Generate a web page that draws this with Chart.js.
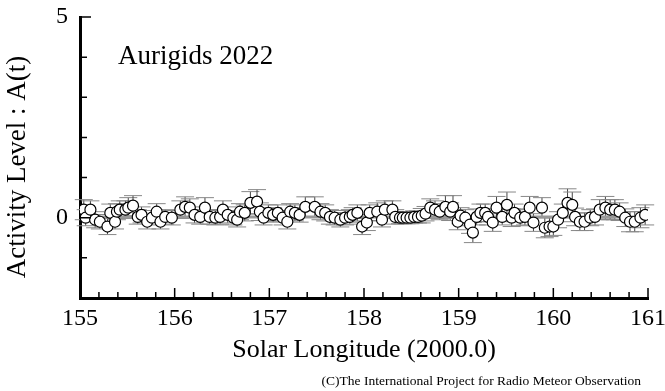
<!DOCTYPE html>
<html>
<head>
<meta charset="utf-8">
<script src="https://cdn.jsdelivr.net/npm/chart.js@4/dist/chart.umd.min.js"></script>
<style>
  html, body { margin: 0; padding: 0; background: #fff; }
</style>
</head>
<body>
<canvas id="chart" width="665" height="391"></canvas>
<script>
// solar longitude of each observation (deg, J2000.0)
const solarLongitude = [
  155.04, 155.06, 155.11, 155.16, 155.21, 155.29, 155.32, 155.37, 155.39, 155.42,
  155.48, 155.51, 155.56, 155.61, 155.65, 155.71, 155.76, 155.81, 155.85, 155.90,
  155.97, 156.06, 156.11, 156.16, 156.21, 156.27, 156.32, 156.37, 156.43, 156.48,
  156.51, 156.56, 156.62, 156.66, 156.69, 156.74, 156.80, 156.87, 156.90, 156.94,
  156.99, 157.04, 157.09, 157.14, 157.19, 157.22, 157.27, 157.32, 157.38, 157.48,
  157.54, 157.59, 157.64, 157.69, 157.75, 157.80, 157.85, 157.88, 157.93, 157.98,
  158.03, 158.06, 158.14, 158.19, 158.22, 158.30, 158.33, 158.38, 158.41, 158.45,
  158.49, 158.53, 158.57, 158.61, 158.65, 158.70, 158.75, 158.80, 158.86, 158.91,
  158.94, 158.99, 159.02, 159.07, 159.12, 159.15, 159.19, 159.23, 159.28, 159.31,
  159.36, 159.40, 159.46, 159.51, 159.56, 159.59, 159.65, 159.70, 159.75, 159.79,
  159.88, 159.91, 159.96, 160.00, 160.05, 160.10, 160.15, 160.20, 160.23, 160.28,
  160.33, 160.39, 160.44, 160.49, 160.55, 160.60, 160.65, 160.70, 160.76, 160.81,
  160.86, 160.92, 160.97
];
// activity level A(t)
const activity = [
   0.20,  0.00,  0.20, -0.05, -0.10, -0.22,  0.12, -0.10,  0.15,  0.20,
   0.20,  0.25,  0.30,  0.02,  0.07, -0.10,  0.00,  0.15, -0.10,  0.02,
   0.00,  0.20,  0.27,  0.25,  0.07,  0.02,  0.25,  0.02,  0.00,  0.02,
   0.20,  0.07,  0.00, -0.05,  0.15,  0.12,  0.37,  0.40,  0.15,  0.00,
   0.12,  0.07,  0.12,  0.00, -0.10,  0.15,  0.12,  0.07,  0.27,  0.27,
   0.15,  0.12,  0.02,  0.00, -0.05,  0.00,  0.02,  0.07,  0.12, -0.22,
  -0.12,  0.12,  0.15, -0.05,  0.20,  0.20,  0.02,  0.00,  0.00,  0.00,
   0.00,  0.02,  0.02,  0.05,  0.10,  0.25,  0.20,  0.15,  0.27,  0.15,
   0.27, -0.10,  0.05,  0.00, -0.17, -0.37,  0.02,  0.12,  0.12,  0.02,
  -0.12,  0.25,  0.02,  0.32,  0.00,  0.12,  0.00,  0.02,  0.25, -0.12,
   0.25, -0.25, -0.22, -0.22, -0.05,  0.12,  0.37,  0.32,  0.02, -0.10,
  -0.10,  0.00,  0.02,  0.20,  0.25,  0.20,  0.20,  0.15,  0.00, -0.10,
  -0.10,  0.00,  0.07
];
// error of A(t)
const errors = [
  0.25, 0.20, 0.22, 0.20, 0.18, 0.20, 0.22, 0.18, 0.20, 0.22,
  0.22, 0.25, 0.25, 0.18, 0.20, 0.18, 0.18, 0.20, 0.18, 0.18,
  0.18, 0.22, 0.25, 0.22, 0.20, 0.18, 0.25, 0.18, 0.18, 0.18,
  0.22, 0.20, 0.18, 0.18, 0.20, 0.20, 0.28, 0.30, 0.22, 0.18,
  0.20, 0.18, 0.20, 0.18, 0.18, 0.20, 0.20, 0.18, 0.25, 0.25,
  0.20, 0.20, 0.18, 0.18, 0.18, 0.18, 0.18, 0.18, 0.20, 0.20,
  0.20, 0.20, 0.22, 0.18, 0.22, 0.22, 0.18, 0.15, 0.15, 0.15,
  0.15, 0.15, 0.15, 0.18, 0.18, 0.22, 0.22, 0.20, 0.28, 0.22,
  0.28, 0.20, 0.20, 0.20, 0.22, 0.25, 0.20, 0.22, 0.22, 0.20,
  0.22, 0.28, 0.20, 0.32, 0.22, 0.22, 0.20, 0.20, 0.28, 0.22,
  0.25, 0.25, 0.25, 0.22, 0.20, 0.22, 0.35, 0.32, 0.22, 0.22,
  0.22, 0.20, 0.20, 0.25, 0.28, 0.25, 0.25, 0.22, 0.22, 0.25,
  0.25, 0.25, 0.25
];
// mean level line
const meanX = [155, 161];
const meanY = [0.02, 0.02];

const xTicks = [155, 156, 157, 158, 159, 160, 161];
const yTicks = [0, 5];

const serif = "'Liberation Serif', 'Times New Roman', serif";

const points = solarLongitude.map((x, i) => ({ x: x, y: activity[i] }));
const meanLine = meanX.map((x, i) => ({ x: x, y: meanY[i] }));

const errorBars = {
  id: 'errorBars',
  beforeDatasetsDraw(chart) {
    const { ctx, scales: { x, y } } = chart;
    ctx.save();
    ctx.lineWidth = 1;
    for (let i = 0; i < points.length; i++) {
      const px = x.getPixelForValue(points[i].x);
      const top = y.getPixelForValue(points[i].y + errors[i]);
      const bot = y.getPixelForValue(points[i].y - errors[i]);
      ctx.strokeStyle = '#444';
      ctx.beginPath();
      ctx.moveTo(px, top);
      ctx.lineTo(px, bot);
      ctx.stroke();
      ctx.strokeStyle = '#888';
      ctx.beginPath();
      ctx.moveTo(px - 9, top);
      ctx.lineTo(px + 9, top);
      ctx.moveTo(px - 9, bot);
      ctx.lineTo(px + 9, bot);
      ctx.stroke();
    }
    ctx.restore();
  }
};

const decorations = {
  id: 'decorations',
  afterDraw(chart) {
    const { ctx, chartArea, scales: { x, y } } = chart;
    ctx.save();
    ctx.strokeStyle = '#000';
    ctx.lineWidth = 1.5;
    ctx.beginPath();
    // inward ticks on x axis, minor every 0.2
    for (let k = 0; k <= 30; k++) {
      const v = 155 + k * 0.2;
      const px = x.getPixelForValue(v);
      const len = k % 5 === 0 ? 10 : 6;
      ctx.moveTo(px, chartArea.bottom);
      ctx.lineTo(px, chartArea.bottom - len);
    }
    // inward ticks on y axis, every 1
    for (let v = -2; v <= 5; v++) {
      const py = y.getPixelForValue(v);
      const len = yTicks.includes(v) ? 11 : 7;
      ctx.moveTo(chartArea.left, py);
      ctx.lineTo(chartArea.left + len, py);
    }
    ctx.stroke();

    ctx.fillStyle = '#000';
    ctx.font = '27px ' + serif;
    ctx.textBaseline = 'middle';
    ctx.textAlign = 'left';
    ctx.fillText('Aurigids 2022', 118, 57);

    ctx.save();
    ctx.translate(18, 167);
    ctx.rotate(-Math.PI / 2);
    ctx.textAlign = 'center';
    ctx.fillText('Activity Level : A(t)', 0, 0);
    ctx.restore();

    ctx.font = '13.5px ' + serif;
    ctx.textAlign = 'right';
    ctx.textBaseline = 'alphabetic';
    ctx.fillText('(C)The International Project for Radio Meteor Observation', 641, 385);
    ctx.restore();
  }
};

new Chart(document.getElementById('chart'), {
  type: 'scatter',
  data: {
    datasets: [
      {
        label: 'A(t)',
        data: points,
        pointRadius: 5.5,
        pointBackgroundColor: '#fff',
        pointBorderColor: '#000',
        pointBorderWidth: 1.2,
        showLine: false
      },
      {
        label: 'mean',
        data: meanLine,
        showLine: true,
        borderColor: '#999',
        borderWidth: 3,
        pointRadius: 0
      }
    ]
  },
  options: {
    responsive: false,
    animation: false,
    devicePixelRatio: 1,
    layout: { padding: { top: 17, right: 0, left: 0, bottom: 0 } },
    plugins: { legend: { display: false }, tooltip: { enabled: false } },
    scales: {
      x: {
        type: 'linear',
        min: 155,
        max: 161,
        afterBuildTicks: (scale) => { scale.ticks = xTicks.map(v => ({ value: v })); },
        afterFit: (scale) => { scale.height = 93; scale.paddingLeft = 0; scale.paddingRight = 17; },
        ticks: { font: { family: serif, size: 24 }, color: '#000', padding: 6, autoSkip: false, maxRotation: 0 },
        grid: { display: false, drawTicks: false },
        border: { display: true, color: '#000', width: 3 },
        title: { display: true, text: 'Solar Longitude (2000.0)', color: '#000', font: { family: serif, size: 26 }, padding: { top: 0, bottom: 25 } }
      },
      y: {
        type: 'linear',
        min: -2,
        max: 5,
        afterBuildTicks: (scale) => { scale.ticks = yTicks.map(v => ({ value: v })); },
        afterFit: (scale) => { scale.width = 80; scale.paddingTop = 0; scale.paddingBottom = 0; },
        ticks: { font: { family: serif, size: 24 }, color: '#000', padding: 12 },
        grid: { display: false, drawTicks: false },
        border: { display: true, color: '#000', width: 3 }
      }
    }
  },
  plugins: [errorBars, decorations]
});
</script>
</body>
</html>
